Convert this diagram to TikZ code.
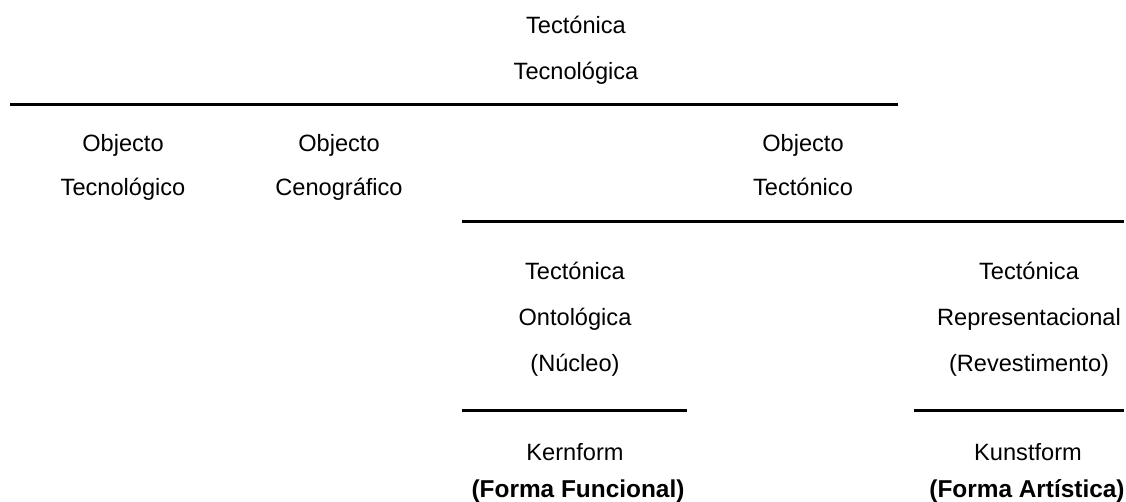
\documentclass[tikz,border=0pt]{standalone}
\usepackage{fontspec}
\setmainfont{Liberation Sans}
\tikzset{every node/.style={anchor=base, inner sep=0pt,
    font=\fontsize{23.6}{28}\selectfont},
    rule/.style={line width=3pt},
    formlabel/.style={font=\fontsize{24.4}{28}\selectfont\bfseries},
    }

\begin{document}
\begin{tikzpicture}[x=1pt,y=-1pt]
	\useasboundingbox (0,0) rectangle (1126,502);
	% top level
	\node (tecTop) at (576,33.5) {Tectónica};
	\node (tecTopB) at (576,79.5) {Tecnológica};
	\coordinate (ruleAw) at (10,104.5);
	\coordinate (ruleAe) at (898,104.5);
	\draw[rule] (ruleAw) -- (ruleAe);
	% objects
	\node (objTec) at (123,151.5) {Objecto};
	\node (objTecB) at (123,195.5) {Tecnológico};
	\node (objCen) at (339,151.5) {Objecto};
	\node (objCenB) at (339,195.5) {Cenográfico};
	\node (objTect) at (803,151.5) {Objecto};
	\node (objTectB) at (803,195.5) {Tectónico};
	\coordinate (ruleBw) at (462,222);
	\coordinate (ruleBe) at (1124,222);
	\draw[rule] (ruleBw) -- (ruleBe);
	% ontological / representational
	\node (ont) at (575,279.5) {Tectónica};
	\node (ontB) at (575,325.5) {Ontológica};
	\node (ontC) at (575,371.5) {(Núcleo)};
	\node (rep) at (1029,279.5) {Tectónica};
	\node (repB) at (1029,325.5) {Representacional};
	\node (repC) at (1029,371.5) {(Revestimento)};
	\coordinate (ruleCw) at (462,410);
	\coordinate (ruleCe) at (687,410);
	\draw[rule] (ruleCw) -- (ruleCe);
	\coordinate (ruleDw) at (914,410);
	\coordinate (ruleDe) at (1124,410);
	\draw[rule] (ruleDw) -- (ruleDe);
	% forms
	\node (kern) at (575,460.5) {Kernform};
	\node[formlabel] (kernB) at (578,497) {(Forma Funcional)};
	\node (kunst) at (1028,460.5) {Kunstform};
	\node[formlabel] (kunstB) at (1027,497) {(Forma Artística)};
\end{tikzpicture}
\end{document}
